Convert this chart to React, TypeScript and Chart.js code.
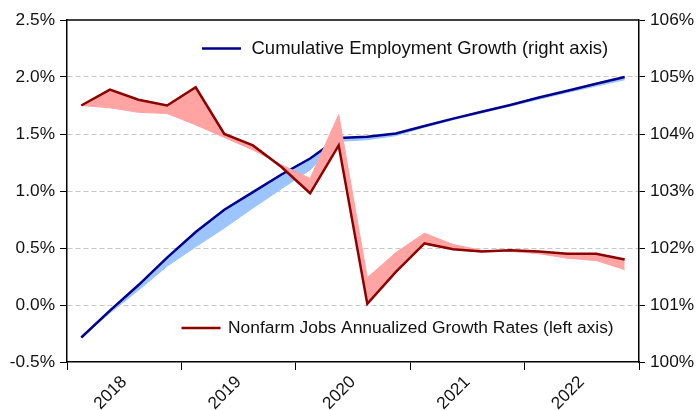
import React, { useEffect, useRef } from 'react';
import { Chart, registerables } from 'chart.js';

Chart.register(...registerables);

// ---- data (quarterly, 2018Q1 .. 2022Q4) ----
const yearLabels = ['2018', '2019', '2020', '2021', '2022'];
const quarterIndex = [0, 1, 2, 3, 4, 5, 6, 7, 8, 9, 10, 11, 12, 13, 14, 15, 16, 17, 18, 19];

// Nonfarm jobs annualized growth rate (%), left axis
const nonfarmGrowth = [1.75, 1.89, 1.80, 1.75, 1.91, 1.50, 1.40, 1.21, 0.98, 1.40, 0.01, 0.29, 0.54, 0.49, 0.47, 0.48, 0.47, 0.45, 0.45, 0.40];
// Earlier estimate (shaded band edge)
const nonfarmGrowthPrior = [1.75, 1.73, 1.69, 1.68, 1.58, 1.47, 1.36, 1.23, 1.11, 1.67, 0.24, 0.46, 0.63, 0.53, 0.48, 0.47, 0.45, 0.41, 0.39, 0.31];

// Cumulative employment growth (%), right axis
const cumulativeEmployment = [100.43, 100.90, 101.35, 101.83, 102.28, 102.67, 102.98, 103.29, 103.57, 103.93, 103.95, 104.01, 104.14, 104.27, 104.39, 104.51, 104.64, 104.76, 104.88, 105.0];
const cumulativeEmploymentPrior = [100.43, 100.86, 101.26, 101.68, 102.02, 102.35, 102.70, 103.04, 103.37, 103.87, 103.90, 103.97, 104.12, 104.25, 104.37, 104.49, 104.61, 104.73, 104.84, 104.95];

const leftTicks = [-0.5, 0.0, 0.5, 1.0, 1.5, 2.0, 2.5];
const rightTicks = [100, 101, 102, 103, 104, 105, 106];

const legendLabels = [
  'Cumulative Employment Growth (right axis)',
  'Nonfarm Jobs Annualized Growth Rates (left axis)',
];

const NAVY = '#00008c';
const LIGHT_BLUE = '#9cc4ff';
const DARK_RED = '#8c0000';
const PINK = '#ffa3a3';
const FONT_FAMILY = '"Liberation Sans", Arial, Helvetica, sans-serif';
const FONT_SIZE = 17.3;

const toPoints = (vals: number[]) => vals.map((v, i) => ({ x: quarterIndex[i] + 0.5, y: v }));

const overlayPlugin = {
  id: 'overlay',
  afterDraw(chart: any) {
    const { ctx, chartArea: a } = chart;
    ctx.save();
    ctx.strokeStyle = '#000';
    ctx.lineWidth = 1.5;
    ctx.beginPath();
    ctx.moveTo(a.left, a.top);
    ctx.lineTo(a.right, a.top);
    ctx.stroke();

    const items = [
      { label: legendLabels[0], color: NAVY, x: 202, y: 48.5, gap: 49.5, size: 18.5 },
      { label: legendLabels[1], color: DARK_RED, x: 181.5, y: 328, gap: 46.5, size: 17.4 },
    ];
    ctx.textBaseline = 'middle';
    ctx.textAlign = 'left';
    items.forEach((it) => {
      ctx.strokeStyle = it.color;
      ctx.lineWidth = 2.5;
      ctx.beginPath();
      ctx.moveTo(it.x, it.y);
      ctx.lineTo(it.x + 39, it.y);
      ctx.stroke();
      ctx.font = `${it.size}px ${FONT_FAMILY}`;
      ctx.fillStyle = '#111';
      ctx.fillText(it.label, it.x + it.gap, it.y);
    });
    ctx.restore();
  },
};

export default function App() {
  const canvasRef = useRef<HTMLCanvasElement | null>(null);

  useEffect(() => {
    if (!canvasRef.current) return;
    const font = { family: FONT_FAMILY, size: FONT_SIZE };
    const chart = new Chart(canvasRef.current, {
      type: 'line',
      data: {
        datasets: [
          {
            label: 'Nonfarm',
            data: toPoints(nonfarmGrowth),
            yAxisID: 'y',
            borderColor: DARK_RED,
            borderWidth: 2.5,
            pointRadius: 0,
            fill: false,
            tension: 0,
            order: 0,
          },
          {
            label: 'Nonfarm prior',
            data: toPoints(nonfarmGrowthPrior),
            yAxisID: 'y',
            borderColor: PINK,
            borderWidth: 1,
            backgroundColor: PINK,
            pointRadius: 0,
            fill: '-1',
            tension: 0,
            order: 1,
          },
          {
            label: 'Cumulative',
            data: toPoints(cumulativeEmployment),
            yAxisID: 'y1',
            borderColor: NAVY,
            borderWidth: 2.5,
            pointRadius: 0,
            fill: false,
            tension: 0,
            order: 2,
          },
          {
            label: 'Cumulative prior',
            data: toPoints(cumulativeEmploymentPrior),
            yAxisID: 'y1',
            borderColor: LIGHT_BLUE,
            borderWidth: 1,
            backgroundColor: LIGHT_BLUE,
            pointRadius: 0,
            fill: '-1',
            tension: 0,
            order: 3,
          },
        ],
      },
      options: {
        responsive: false,
        animation: false,
        layout: { padding: { top: 20, left: 0, right: 0, bottom: 0 } },
        plugins: { legend: { display: false }, tooltip: { enabled: false } },
        scales: {
          x: {
            type: 'linear',
            min: 0,
            max: quarterIndex.length,
            afterBuildTicks: (s: any) => {
              const t = [];
              for (let v = 0; v <= quarterIndex.length; v += 2) t.push({ value: v });
              s.ticks = t;
            },
            afterFit: (s: any) => {
              s.height = 48;
            },
            ticks: {
              autoSkip: false,
              minRotation: 45,
              maxRotation: 45,
              padding: 2,
              font,
              color: '#111',
              callback: (v: any) => (v % 4 === 2 ? yearLabels[(v - 2) / 4] : ''),
            },
            grid: {
              drawOnChartArea: false,
              tickLength: 8,
              tickWidth: 1,
              tickColor: (c: any) => (c.tick && c.tick.value % 4 === 0 ? '#000' : 'rgba(0,0,0,0)'),
            },
            border: { color: '#000', width: 1.5 },
          },
          y: {
            position: 'left',
            min: leftTicks[0],
            max: leftTicks[leftTicks.length - 1],
            afterBuildTicks: (s: any) => {
              s.ticks = leftTicks.map((v) => ({ value: v }));
            },
            afterFit: (s: any) => {
              s.width = 67;
            },
            ticks: {
              padding: 5,
              font,
              color: '#111',
              callback: (v: any) => Number(v).toFixed(1) + '%',
            },
            grid: {
              color: (c: any) => {
                const v = c.tick ? c.tick.value : 0;
                return v <= leftTicks[0] + 1e-6 || v >= leftTicks[leftTicks.length - 1] - 1e-6
                  ? 'rgba(0,0,0,0)'
                  : '#c8c8c8';
              },
              lineWidth: 1,
              tickLength: 7,
              tickColor: '#000',
              tickBorderDash: [],
            },
            border: { color: '#000', width: 1.5, dash: [5, 3] },
          },
          y1: {
            position: 'right',
            min: rightTicks[0],
            max: rightTicks[rightTicks.length - 1],
            afterBuildTicks: (s: any) => {
              s.ticks = rightTicks.map((v) => ({ value: v }));
            },
            afterFit: (s: any) => {
              s.width = 61;
            },
            ticks: {
              padding: 5,
              font,
              color: '#111',
              callback: (v: any) => v + '%',
            },
            grid: {
              drawOnChartArea: false,
              tickLength: 6,
              tickColor: '#000',
            },
            border: { color: '#000', width: 1.5 },
          },
        },
      },
      plugins: [overlayPlugin],
    } as any);
    return () => chart.destroy();
  }, []);

  return (
    <div style={{ position: 'fixed', left: 0, top: 0, width: 700, height: 410, background: '#fff' }}>
      <canvas ref={canvasRef} width={700} height={410} style={{ display: 'block' }} />
    </div>
  );
}
